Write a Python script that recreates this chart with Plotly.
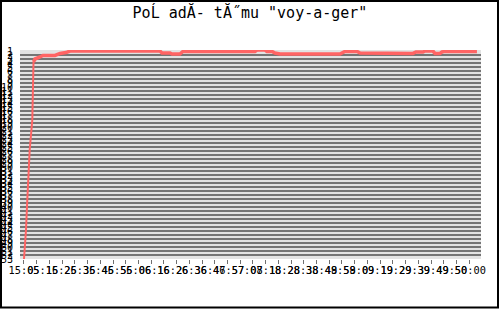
import plotly.graph_objects as go

# ---- data ----
title_text = 'PoĹ adĂ- tĂ˝mu "voy-a-ger"'
seconds = [0, 0.55, 1.57, 2.59, 3.38, 4.48, 6.53, 7.31, 7.47, 8.65, 12.6, 14.9, 24.4, 28.3,
           33.0, 36.2, 106.9, 108.5, 114.8, 116.4, 122.6, 125, 181.6, 183.2, 189.5, 191,
           195, 197.3, 201.3, 248.4, 252.4, 261.8, 264.2, 279.9, 285.4, 305.8, 308.2,
           313.7, 315.3, 321.5, 323.1, 327, 328.6, 331, 356.1]
rank = [53, 50.75, 45.75, 38.25, 30.75, 25.75, 18.25, 10.75, 3.75, 3, 2.5, 2.1, 2.1, 1.6,
        1.4, 1, 1, 1.5, 1.5, 1.75, 1.75, 1.1, 1.1, 0.75, 0.75, 1.1,
        1.1, 1.5, 1.75, 1.75, 1.1, 1.1, 1.5, 1.5, 1.6, 1.6, 1.25,
        1.25, 1, 1, 1.6, 1.6, 1.25, 1.1, 1.1]
x_tick_labels = ["15:05", "05:15", "16:25", "26:35", "36:45", "46:56", "55:06", "06:16",
                 "16:26", "26:36", "36:46", "47:57", "57:08", "07:18", "18:28", "28:38",
                 "38:48", "49:59", "58:09", "09:19", "19:29", "29:39", "39:49", "49:50",
                 "50:00"]
y_ranks = list(range(1, 54))
y_tick_labels = [str(r) for r in y_ranks]

# ---- layout geometry ----
W, H = 500, 309
L, R, T, B = 20, 19, 50, 50
pw, ph = W - L - R, H - T - B

label_step = 14.62
x_tickvals = [0.05 + i * label_step for i in range(len(x_tick_labels))]

fig = go.Figure()
split = 9  # steep climb drawn thinner, as in the picture
fig.add_trace(go.Scatter(x=seconds[:split], y=rank[:split], mode="lines",
                         line=dict(color="#ff6464", width=2), showlegend=False))
fig.add_trace(go.Scatter(x=seconds[split - 1:], y=rank[split - 1:], mode="lines",
                         line=dict(color="#ff6464", width=3.5), showlegend=False))

mono = "DejaVu Sans Mono"
fig.update_layout(
    width=W, height=H,
    margin=dict(l=L, r=R, t=T, b=B),
    paper_bgcolor="white",
    plot_bgcolor="#e2e2e2",
    title=dict(text=title_text, x=0.5, xref="container", y=1 - 13 / H, yref="container",
               xanchor="center", yanchor="middle",
               font=dict(family=mono, size=15, color="black")),
    xaxis=dict(range=[-3.14, 359.3], showgrid=False, zeroline=False, automargin=False,
               tickvals=x_tickvals, ticktext=x_tick_labels, ticks="", tickangle=0,
               tickfont=dict(family=mono, size=10.3, color="black"),
               ticklabelstandoff=4,
               minor=dict(ticks="outside", tick0=0, dtick=10, ticklen=4,
                          tickcolor="#707070", tickwidth=1),
               showline=False),
    yaxis=dict(range=[53, 0.75], tickvals=y_ranks, ticktext=y_tick_labels, automargin=False,
               showgrid=True, gridcolor="#747474", gridwidth=1.6, zeroline=False,
               ticks="", tickfont=dict(family=mono, size=10, color="black"),
               ticklabelstandoff=6, showline=False),
    shapes=[dict(type="rect", xref="paper", yref="paper",
                 x0=(1 - L) / pw, x1=(498 - L) / pw,
                 y0=(H - B - 307.5) / ph, y1=(H - B - 1) / ph,
                 line=dict(color="black", width=2), layer="above")],
)

fig.write_html("out.html")
